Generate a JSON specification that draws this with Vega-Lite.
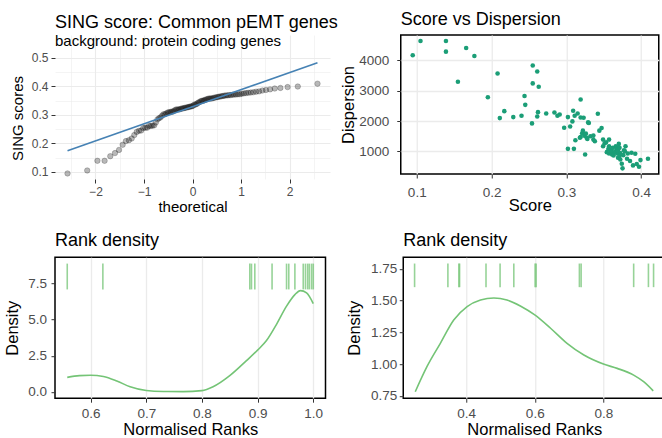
{
  "$schema": "https://vega.github.io/schema/vega-lite/v6.json",
  "padding": {"left": 3, "top": 9, "right": 0, "bottom": 0},
  "background": "white",
  "spacing": 15.2,
  "config": {
    "font": "Liberation Sans",
    "axis": {"labelColor": "#4D4D4D", "titleColor": "#000000", "tickColor": "#333333", "domain": false, "gridColor": "#EBEBEB", "titleFontWeight": "normal", "labelFont": "Liberation Sans", "titleFont": "Liberation Sans", "labelOverlap": false, "labelBound": false, "labelFlush": false},
    "axisQuantitative": {"labelOverlap": false},
    "title": {"anchor": "start", "frame": "group", "fontWeight": "normal", "color": "#000000", "font": "Liberation Sans", "subtitleFont": "Liberation Sans"}
  },
  "datasets": {
    "genes": [
      {"theoretical": -2.576, "score": 0.0946, "dispersion": 4163},
      {"theoretical": -2.170, "score": 0.105, "dispersion": 4630},
      {"theoretical": -1.960, "score": 0.139, "dispersion": 4630},
      {"theoretical": -1.812, "score": 0.139, "dispersion": 4283},
      {"theoretical": -1.695, "score": 0.155, "dispersion": 3293},
      {"theoretical": -1.598, "score": 0.166, "dispersion": 4402},
      {"theoretical": -1.514, "score": 0.177, "dispersion": 4141},
      {"theoretical": -1.440, "score": 0.195, "dispersion": 2783},
      {"theoretical": -1.372, "score": 0.208, "dispersion": 3565},
      {"theoretical": -1.311, "score": 0.211, "dispersion": 2098},
      {"theoretical": -1.254, "score": 0.217, "dispersion": 2326},
      {"theoretical": -1.200, "score": 0.229, "dispersion": 2130},
      {"theoretical": -1.150, "score": 0.240, "dispersion": 2174},
      {"theoretical": -1.103, "score": 0.244, "dispersion": 2826},
      {"theoretical": -1.058, "score": 0.245, "dispersion": 2533},
      {"theoretical": -1.015, "score": 0.254, "dispersion": 1924},
      {"theoretical": -0.974, "score": 0.255, "dispersion": 3826},
      {"theoretical": -0.935, "score": 0.255, "dispersion": 3239},
      {"theoretical": -0.896, "score": 0.261, "dispersion": 3630},
      {"theoretical": -0.860, "score": 0.261, "dispersion": 2152},
      {"theoretical": -0.824, "score": 0.262, "dispersion": 2293},
      {"theoretical": -0.789, "score": 0.263, "dispersion": 3130},
      {"theoretical": -0.755, "score": 0.273, "dispersion": 2250},
      {"theoretical": -0.722, "score": 0.284, "dispersion": 2283},
      {"theoretical": -0.690, "score": 0.288, "dispersion": 2174},
      {"theoretical": -0.659, "score": 0.291, "dispersion": 2217},
      {"theoretical": -0.628, "score": 0.297, "dispersion": 1783},
      {"theoretical": -0.598, "score": 0.302, "dispersion": 2130},
      {"theoretical": -0.568, "score": 0.302, "dispersion": 1087},
      {"theoretical": -0.539, "score": 0.305, "dispersion": 1820},
      {"theoretical": -0.510, "score": 0.308, "dispersion": 1989},
      {"theoretical": -0.482, "score": 0.309, "dispersion": 2337},
      {"theoretical": -0.454, "score": 0.310, "dispersion": 1087},
      {"theoretical": -0.426, "score": 0.311, "dispersion": 2174},
      {"theoretical": -0.399, "score": 0.312, "dispersion": 1370},
      {"theoretical": -0.372, "score": 0.315, "dispersion": 2250},
      {"theoretical": -0.345, "score": 0.318, "dispersion": 1450},
      {"theoretical": -0.319, "score": 0.319, "dispersion": 2707},
      {"theoretical": -0.292, "score": 0.319, "dispersion": 2120},
      {"theoretical": -0.266, "score": 0.319, "dispersion": 1478},
      {"theoretical": -0.240, "score": 0.321, "dispersion": 1600},
      {"theoretical": -0.215, "score": 0.322, "dispersion": 1685},
      {"theoretical": -0.189, "score": 0.323, "dispersion": 2110},
      {"theoretical": -0.164, "score": 0.324, "dispersion": 1520},
      {"theoretical": -0.138, "score": 0.325, "dispersion": 902},
      {"theoretical": -0.113, "score": 0.326, "dispersion": 1587},
      {"theoretical": -0.088, "score": 0.327, "dispersion": 1450},
      {"theoretical": -0.063, "score": 0.328, "dispersion": 1413},
      {"theoretical": -0.038, "score": 0.329, "dispersion": 1957},
      {"theoretical": -0.013, "score": 0.330, "dispersion": 1935},
      {"theoretical": 0.013, "score": 0.332, "dispersion": 1500},
      {"theoretical": 0.038, "score": 0.336, "dispersion": 1391},
      {"theoretical": 0.063, "score": 0.336, "dispersion": 1522},
      {"theoretical": 0.088, "score": 0.338, "dispersion": 1337},
      {"theoretical": 0.113, "score": 0.342, "dispersion": 2239},
      {"theoretical": 0.138, "score": 0.344, "dispersion": 1685},
      {"theoretical": 0.164, "score": 0.347, "dispersion": 1772},
      {"theoretical": 0.189, "score": 0.349, "dispersion": 1391},
      {"theoretical": 0.215, "score": 0.349, "dispersion": 1174},
      {"theoretical": 0.240, "score": 0.351, "dispersion": 1261},
      {"theoretical": 0.266, "score": 0.353, "dispersion": 1300},
      {"theoretical": 0.292, "score": 0.354, "dispersion": 978},
      {"theoretical": 0.319, "score": 0.356, "dispersion": 1080},
      {"theoretical": 0.345, "score": 0.357, "dispersion": 1391},
      {"theoretical": 0.372, "score": 0.357, "dispersion": 1174},
      {"theoretical": 0.399, "score": 0.357, "dispersion": 935},
      {"theoretical": 0.426, "score": 0.359, "dispersion": 1050},
      {"theoretical": 0.454, "score": 0.360, "dispersion": 1011},
      {"theoretical": 0.482, "score": 0.361, "dispersion": 900},
      {"theoretical": 0.510, "score": 0.362, "dispersion": 1120},
      {"theoretical": 0.539, "score": 0.363, "dispersion": 870},
      {"theoretical": 0.568, "score": 0.364, "dispersion": 957},
      {"theoretical": 0.598, "score": 0.365, "dispersion": 1000},
      {"theoretical": 0.628, "score": 0.366, "dispersion": 1174},
      {"theoretical": 0.659, "score": 0.367, "dispersion": 1087},
      {"theoretical": 0.690, "score": 0.368, "dispersion": 935},
      {"theoretical": 0.722, "score": 0.368, "dispersion": 1050},
      {"theoretical": 0.755, "score": 0.369, "dispersion": 1011},
      {"theoretical": 0.789, "score": 0.369, "dispersion": 793},
      {"theoretical": 0.824, "score": 0.370, "dispersion": 1250},
      {"theoretical": 0.860, "score": 0.371, "dispersion": 848},
      {"theoretical": 0.896, "score": 0.371, "dispersion": 1120},
      {"theoretical": 0.935, "score": 0.372, "dispersion": 739},
      {"theoretical": 0.974, "score": 0.372, "dispersion": 950},
      {"theoretical": 1.015, "score": 0.374, "dispersion": 598},
      {"theoretical": 1.058, "score": 0.375, "dispersion": 446},
      {"theoretical": 1.103, "score": 0.376, "dispersion": 880},
      {"theoretical": 1.150, "score": 0.377, "dispersion": 1043},
      {"theoretical": 1.200, "score": 0.378, "dispersion": 1011},
      {"theoretical": 1.254, "score": 0.379, "dispersion": 1174},
      {"theoretical": 1.311, "score": 0.381, "dispersion": 761},
      {"theoretical": 1.372, "score": 0.382, "dispersion": 935},
      {"theoretical": 1.440, "score": 0.385, "dispersion": 685},
      {"theoretical": 1.514, "score": 0.387, "dispersion": 957},
      {"theoretical": 1.598, "score": 0.389, "dispersion": 543},
      {"theoretical": 1.695, "score": 0.392, "dispersion": 924},
      {"theoretical": 1.812, "score": 0.394, "dispersion": 587},
      {"theoretical": 1.960, "score": 0.397, "dispersion": 500},
      {"theoretical": 2.170, "score": 0.399, "dispersion": 717},
      {"theoretical": 2.576, "score": 0.409, "dispersion": 761}
    ],
    "qqline": [
      {"theoretical": -2.576, "score": 0.174},
      {"theoretical": 2.576, "score": 0.482}
    ],
    "rank1": [
      {"rank": 0.558}, {"rank": 0.622}, {"rank": 0.886}, {"rank": 0.889}, {"rank": 0.895},
      {"rank": 0.926}, {"rank": 0.952}, {"rank": 0.956}, {"rank": 0.967}, {"rank": 0.982},
      {"rank": 0.986}, {"rank": 0.990}, {"rank": 0.993}, {"rank": 0.997}, {"rank": 1.0}
    ],
    "dens1": [
      {"rank": 0.558, "density": 1.00},
      {"rank": 0.580, "density": 1.12},
      {"rank": 0.600, "density": 1.15},
      {"rank": 0.623, "density": 1.06},
      {"rank": 0.647, "density": 0.75},
      {"rank": 0.671, "density": 0.35},
      {"rank": 0.700, "density": 0.09},
      {"rank": 0.731, "density": 0.02},
      {"rank": 0.766, "density": 0.01},
      {"rank": 0.800, "density": 0.08},
      {"rank": 0.820, "density": 0.35},
      {"rank": 0.850, "density": 1.12},
      {"rank": 0.880, "density": 2.16},
      {"rank": 0.900, "density": 2.89},
      {"rank": 0.916, "density": 3.55},
      {"rank": 0.934, "density": 4.68},
      {"rank": 0.952, "density": 5.94},
      {"rank": 0.967, "density": 6.74},
      {"rank": 0.977, "density": 7.02},
      {"rank": 0.988, "density": 6.86},
      {"rank": 1.000, "density": 6.12}
    ],
    "rank2": [
      {"rank": 0.250}, {"rank": 0.347}, {"rank": 0.379}, {"rank": 0.381}, {"rank": 0.458},
      {"rank": 0.499}, {"rank": 0.539}, {"rank": 0.601}, {"rank": 0.604}, {"rank": 0.730},
      {"rank": 0.735}, {"rank": 0.888}, {"rank": 0.931}, {"rank": 0.946}
    ],
    "dens2": [
      {"rank": 0.252, "density": 0.782},
      {"rank": 0.286, "density": 0.979},
      {"rank": 0.325, "density": 1.163},
      {"rank": 0.364, "density": 1.347},
      {"rank": 0.403, "density": 1.453},
      {"rank": 0.442, "density": 1.505},
      {"rank": 0.481, "density": 1.521},
      {"rank": 0.519, "density": 1.505},
      {"rank": 0.558, "density": 1.458},
      {"rank": 0.600, "density": 1.387},
      {"rank": 0.646, "density": 1.282},
      {"rank": 0.694, "density": 1.163},
      {"rank": 0.743, "density": 1.071},
      {"rank": 0.800, "density": 1.000},
      {"rank": 0.840, "density": 0.966},
      {"rank": 0.888, "density": 0.913},
      {"rank": 0.917, "density": 0.861},
      {"rank": 0.945, "density": 0.789}
    ]
  },
  "vconcat": [
    {
      "hconcat": [
        {
          "width": 275,
          "height": 144,
          "view": {"stroke": null},
          "title": {"text": "SING score: Common pEMT genes", "subtitle": "background: protein coding genes", "fontSize": 18, "subtitleFontSize": 15, "subtitleColor": "#000000", "subtitlePadding": 2.5, "offset": -14.4},
          "layer": [
            {
              "data": {"name": "genes"},
              "mark": {"type": "point", "filled": true, "size": 30, "fill": "#000000", "fillOpacity": 0.28, "stroke": "#000000", "strokeOpacity": 0.3, "strokeWidth": 0.7},
              "encoding": {
                "x": {"field": "theoretical", "type": "quantitative", "title": "theoretical",
                  "scale": {"domain": [-2.834, 2.834], "nice": false, "zero": false},
                  "axis": {"values": [-2.5, -2, -1.5, -1, -0.5, 0, 0.5, 1, 1.5, 2, 2.5], "labelOverlap": false,
                    "labelExpr": "abs(datum.value - round(datum.value)) > 0.01 ? '' : (datum.value < 0 ? '−' + abs(datum.value) : '' + datum.value)",
                    "tickOpacity": {"condition": {"test": "abs(datum.value - round(datum.value)) < 0.01", "value": 1}, "value": 0},
                    "gridWidth": {"condition": {"test": "abs(datum.value - round(datum.value)) < 0.01", "value": 1.1}, "value": 0.55},
                    "labelFontSize": 12, "titleFontSize": 15, "tickSize": 4, "labelPadding": 3.5, "titlePadding": 1.6}},
                "y": {"field": "score", "type": "quantitative", "title": "SING scores",
                  "scale": {"domain": [0.0752, 0.5794], "nice": false, "zero": false},
                  "axis": {"values": [0.1, 0.15, 0.2, 0.25, 0.3, 0.35, 0.4, 0.45, 0.5], "format": ".1f", "labelOverlap": false,
                    "labelExpr": "round(datum.value*100) % 10 === 0 ? datum.label : ''",
                    "tickOpacity": {"condition": {"test": "round(datum.value*100) % 10 === 0", "value": 1}, "value": 0},
                    "gridWidth": {"condition": {"test": "round(datum.value*100) % 10 === 0", "value": 1.1}, "value": 0.55},
                    "labelFontSize": 12, "titleFontSize": 15, "tickSize": 4, "labelPadding": 3, "titlePadding": 6.3, "titleY": 83}}
              }
            },
            {
              "data": {"name": "qqline"},
              "mark": {"type": "line", "color": "#4682B4", "strokeWidth": 1.6},
              "encoding": {
                "x": {"field": "theoretical", "type": "quantitative", "title": "theoretical",
                  "axis": {"values": [-2.5, -2, -1.5, -1, -0.5, 0, 0.5, 1, 1.5, 2, 2.5], "labelOverlap": false,
                    "labelExpr": "abs(datum.value - round(datum.value)) > 0.01 ? '' : (datum.value < 0 ? '−' + abs(datum.value) : '' + datum.value)",
                    "tickOpacity": {"condition": {"test": "abs(datum.value - round(datum.value)) < 0.01", "value": 1}, "value": 0},
                    "gridWidth": {"condition": {"test": "abs(datum.value - round(datum.value)) < 0.01", "value": 1.1}, "value": 0.55},
                    "labelFontSize": 12, "titleFontSize": 15, "tickSize": 4, "labelPadding": 3.5, "titlePadding": 1.6}},
                "y": {"field": "score", "type": "quantitative", "title": "SING scores",
                  "axis": {"values": [0.1, 0.15, 0.2, 0.25, 0.3, 0.35, 0.4, 0.45, 0.5], "format": ".1f", "labelOverlap": false,
                    "labelExpr": "round(datum.value*100) % 10 === 0 ? datum.label : ''",
                    "tickOpacity": {"condition": {"test": "round(datum.value*100) % 10 === 0", "value": 1}, "value": 0},
                    "gridWidth": {"condition": {"test": "round(datum.value*100) % 10 === 0", "value": 1.1}, "value": 0.55},
                    "labelFontSize": 12, "titleFontSize": 15, "tickSize": 4, "labelPadding": 3, "titlePadding": 6.3, "titleY": 83}}
              }
            },
            {
              "mark": {"type": "rect", "color": "#FFFFFF"},
              "encoding": {
                "x": {"datum": -2.834, "type": "quantitative", "title": "theoretical",
                  "axis": {"values": [-2.5, -2, -1.5, -1, -0.5, 0, 0.5, 1, 1.5, 2, 2.5], "labelOverlap": false,
                    "labelExpr": "abs(datum.value - round(datum.value)) > 0.01 ? '' : (datum.value < 0 ? '−' + abs(datum.value) : '' + datum.value)",
                    "tickOpacity": {"condition": {"test": "abs(datum.value - round(datum.value)) < 0.01", "value": 1}, "value": 0},
                    "gridWidth": {"condition": {"test": "abs(datum.value - round(datum.value)) < 0.01", "value": 1.1}, "value": 0.55},
                    "labelFontSize": 12, "titleFontSize": 15, "tickSize": 4, "labelPadding": 3.5, "titlePadding": 1.6}},
                "x2": {"datum": 2.834},
                "y": {"datum": 0.5024, "type": "quantitative", "title": "SING scores",
                  "axis": {"values": [0.1, 0.15, 0.2, 0.25, 0.3, 0.35, 0.4, 0.45, 0.5], "format": ".1f", "labelOverlap": false,
                    "labelExpr": "round(datum.value*100) % 10 === 0 ? datum.label : ''",
                    "tickOpacity": {"condition": {"test": "round(datum.value*100) % 10 === 0", "value": 1}, "value": 0},
                    "gridWidth": {"condition": {"test": "round(datum.value*100) % 10 === 0", "value": 1.1}, "value": 0.55},
                    "labelFontSize": 12, "titleFontSize": 15, "tickSize": 4, "labelPadding": 3, "titlePadding": 6.3, "titleY": 83}},
                "y2": {"datum": 0.5794}
              }
            },
            {
              "mark": {"type": "rect", "fill": "#FFFFFF", "fillOpacity": 0, "stroke": "#333333", "strokeWidth": 1},
              "encoding": {
                "x": {"datum": -2.834, "type": "quantitative", "title": "theoretical",
                  "axis": {"values": [-2.5, -2, -1.5, -1, -0.5, 0, 0.5, 1, 1.5, 2, 2.5], "labelOverlap": false,
                    "labelExpr": "abs(datum.value - round(datum.value)) > 0.01 ? '' : (datum.value < 0 ? '−' + abs(datum.value) : '' + datum.value)",
                    "tickOpacity": {"condition": {"test": "abs(datum.value - round(datum.value)) < 0.01", "value": 1}, "value": 0},
                    "gridWidth": {"condition": {"test": "abs(datum.value - round(datum.value)) < 0.01", "value": 1.1}, "value": 0.55},
                    "labelFontSize": 12, "titleFontSize": 15, "tickSize": 4, "labelPadding": 3.5, "titlePadding": 1.6}},
                "x2": {"datum": 2.834},
                "y": {"datum": 0.0752, "type": "quantitative", "title": "SING scores",
                  "axis": {"values": [0.1, 0.15, 0.2, 0.25, 0.3, 0.35, 0.4, 0.45, 0.5], "format": ".1f", "labelOverlap": false,
                    "labelExpr": "round(datum.value*100) % 10 === 0 ? datum.label : ''",
                    "tickOpacity": {"condition": {"test": "round(datum.value*100) % 10 === 0", "value": 1}, "value": 0},
                    "gridWidth": {"condition": {"test": "round(datum.value*100) % 10 === 0", "value": 1.1}, "value": 0.55},
                    "labelFontSize": 12, "titleFontSize": 15, "tickSize": 4, "labelPadding": 3, "titlePadding": 6.3, "titleY": 83}},
                "y2": {"datum": 0.5024}
              }
            }
          ]
        },
        {
          "width": 258,
          "height": 139,
          "view": {"stroke": "#000000", "strokeWidth": 1.5},
          "title": {"text": "Score vs Dispersion", "fontSize": 18, "offset": 6.4},
          "data": {"name": "genes"},
          "mark": {"type": "circle", "size": 21, "color": "#1B9E77", "opacity": 1},
          "encoding": {
            "x": {"field": "score", "type": "quantitative", "title": "Score",
              "scale": {"domain": [0.0786, 0.4234], "nice": false, "zero": false},
              "axis": {"values": [0.1, 0.2, 0.3, 0.4], "format": ".1f", "gridWidth": 1.3, "labelOverlap": false,
                "labelFontSize": 13.5, "titleFontSize": 16.5, "tickSize": 4, "labelPadding": 7, "titlePadding": -0.8}},
            "y": {"field": "dispersion", "type": "quantitative", "title": "Dispersion",
              "scale": {"domain": [260, 4830], "nice": false, "zero": false},
              "axis": {"values": [1000, 2000, 3000, 4000], "format": "d", "gridWidth": 1.3, "labelOverlap": false,
                "labelFontSize": 13.5, "titleFontSize": 16.5, "tickSize": 4, "labelPadding": 8, "titlePadding": 2.5}}
          }
        }
      ],
      "spacing": -0.25,
      "align": "none"
    },
    {
      "hconcat": [
        {
          "width": 270.5,
          "height": 141,
          "view": {"stroke": "#000000", "strokeWidth": 1.5},
          "title": {"text": "Rank density", "fontSize": 18, "offset": 7.5},
          "layer": [
            {
              "data": {"name": "rank1"},
              "mark": {"type": "rule", "color": "#74C476", "opacity": 0.75, "strokeWidth": 1.6},
              "encoding": {
                "x": {"field": "rank", "type": "quantitative", "title": "Normalised Ranks",
                  "scale": {"domain": [0.536, 1.022], "nice": false, "zero": false},
                  "axis": {"values": [0.6, 0.7, 0.8, 0.9, 1.0], "format": ".1f", "gridWidth": 1.3, "labelOverlap": false,
                    "labelFontSize": 13.5, "titleFontSize": 16.5, "tickSize": 4, "labelPadding": 4, "titlePadding": 1.5}},
                "y": {"datum": 7.1, "type": "quantitative", "title": "Density",
                  "scale": {"domain": [-0.445, 9.335], "nice": false, "zero": false},
                  "axis": {"values": [0, 2.5, 5, 7.5], "format": ".1f", "gridWidth": 1.3, "labelOverlap": false,
                    "labelFontSize": 13.5, "titleFontSize": 16.5, "tickSize": 4, "labelPadding": 4.5, "titlePadding": 7.45}},
                "y2": {"datum": 8.89}
              }
            },
            {
              "data": {"name": "dens1"},
              "mark": {"type": "line", "color": "#74C476", "strokeWidth": 1.6, "interpolate": "monotone"},
              "encoding": {
                "x": {"field": "rank", "type": "quantitative", "title": "Normalised Ranks",
                  "axis": {"values": [0.6, 0.7, 0.8, 0.9, 1.0], "format": ".1f", "gridWidth": 1.3, "labelOverlap": false,
                    "labelFontSize": 13.5, "titleFontSize": 16.5, "tickSize": 4, "labelPadding": 4, "titlePadding": 1.5}},
                "y": {"field": "density", "type": "quantitative", "title": "Density",
                  "axis": {"values": [0, 2.5, 5, 7.5], "format": ".1f", "gridWidth": 1.3, "labelOverlap": false,
                    "labelFontSize": 13.5, "titleFontSize": 16.5, "tickSize": 4, "labelPadding": 4.5, "titlePadding": 7.45}}
              }
            }
          ]
        },
        {
          "width": 262,
          "height": 141,
          "view": {"stroke": "#000000", "strokeWidth": 1.5},
          "title": {"text": "Rank density", "fontSize": 18, "offset": 7.5},
          "layer": [
            {
              "data": {"name": "rank2"},
              "mark": {"type": "rule", "color": "#74C476", "opacity": 0.75, "strokeWidth": 1.6},
              "encoding": {
                "x": {"field": "rank", "type": "quantitative", "title": "Normalised Ranks",
                  "scale": {"domain": [0.217, 0.980], "nice": false, "zero": false},
                  "axis": {"values": [0.4, 0.6, 0.8], "format": ".1f", "gridWidth": 1.3, "labelOverlap": false,
                    "labelFontSize": 13.5, "titleFontSize": 16.5, "tickSize": 4, "labelPadding": 4, "titlePadding": 1.5}},
                "y": {"datum": 1.606, "type": "quantitative", "title": "Density",
                  "scale": {"domain": [0.731, 1.842], "nice": false, "zero": false},
                  "axis": {"values": [0.75, 1.0, 1.25, 1.5, 1.75], "format": ".2f", "gridWidth": 1.3, "labelOverlap": false,
                    "labelFontSize": 13.5, "titleFontSize": 16.5, "tickSize": 4, "labelPadding": 2.5, "titlePadding": 8.2}},
                "y2": {"datum": 1.792}
              }
            },
            {
              "data": {"name": "dens2"},
              "mark": {"type": "line", "color": "#74C476", "strokeWidth": 1.6, "interpolate": "monotone"},
              "encoding": {
                "x": {"field": "rank", "type": "quantitative", "title": "Normalised Ranks",
                  "axis": {"values": [0.4, 0.6, 0.8], "format": ".1f", "gridWidth": 1.3, "labelOverlap": false,
                    "labelFontSize": 13.5, "titleFontSize": 16.5, "tickSize": 4, "labelPadding": 4, "titlePadding": 1.5}},
                "y": {"field": "density", "type": "quantitative", "title": "Density",
                  "axis": {"values": [0.75, 1.0, 1.25, 1.5, 1.75], "format": ".2f", "gridWidth": 1.3, "labelOverlap": false,
                    "labelFontSize": 13.5, "titleFontSize": 16.5, "tickSize": 4, "labelPadding": 2.5, "titlePadding": 8.2}}
              }
            }
          ]
        }
      ],
      "spacing": 18.25,
      "align": "none"
    }
  ]
}
